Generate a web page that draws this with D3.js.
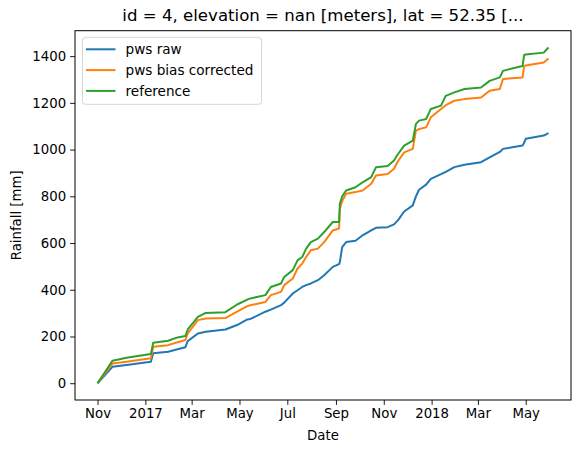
<!DOCTYPE html>
<html>
<head>
<meta charset="utf-8">
<script src="https://cdn.jsdelivr.net/npm/d3@7"></script>
<style>
  body { margin: 0; background: #fff; }
  svg text { font-family: "DejaVu Sans", sans-serif; fill: #000; }
</style>
</head>
<body>
<svg id="chart" width="580" height="453"></svg>
<script>
// sample dates shared by all three series (cumulative rainfall, mm)
var dates = [
  "2016-11-01", "2016-11-20", "2016-12-08", "2017-01-08", "2017-01-11", "2017-01-30",
  "2017-02-11", "2017-02-21", "2017-02-24", "2017-03-09", "2017-03-19", "2017-04-13",
  "2017-04-28", "2017-05-11", "2017-05-15", "2017-06-03", "2017-06-10", "2017-06-23",
  "2017-06-27", "2017-07-08", "2017-07-14", "2017-07-20", "2017-07-25", "2017-07-31",
  "2017-08-09", "2017-08-17", "2017-08-28", "2017-09-05", "2017-09-06", "2017-09-09",
  "2017-09-14", "2017-09-26", "2017-10-05", "2017-10-16", "2017-10-22", "2017-11-06",
  "2017-11-14", "2017-11-19", "2017-11-27", "2017-12-08", "2017-12-12", "2017-12-16",
  "2017-12-25", "2017-12-31", "2018-01-13", "2018-01-19", "2018-01-30", "2018-02-12",
  "2018-03-05", "2018-03-16", "2018-03-29", "2018-04-02", "2018-04-27", "2018-04-29",
  "2018-05-01", "2018-05-24", "2018-05-30"
];
var pwsRaw = [
  0, 70, 78, 92, 128, 135, 145, 154, 180, 213, 220, 230,
  249, 273, 275, 306, 315, 334, 345, 384, 398, 412, 420, 427,
  441, 462, 498, 510, 519, 583, 604, 610, 633, 654, 665, 668,
  680, 697, 735, 761, 800, 828, 850, 875, 895, 905, 925, 935,
  946, 967, 990, 1003, 1017, 1030, 1046, 1060, 1070
];
var pwsCorrected = [
  0, 84, 92, 107, 156, 163, 175, 185, 213, 270, 277, 279,
  306, 330, 334, 348, 377, 391, 420, 448, 491, 512, 540, 569,
  576, 604, 654, 662, 747, 780, 811, 818, 825, 854, 889, 895,
  918, 950, 988, 1003, 1081, 1088, 1095, 1138, 1174, 1190, 1209, 1216,
  1223, 1252, 1259, 1302, 1309, 1358, 1360, 1373, 1390
];
var reference = [
  0, 96, 109, 125, 173, 182, 196, 202, 230, 284, 301, 304,
  337, 358, 363, 377, 412, 427, 455, 484, 526, 540, 576, 604,
  619, 647, 690, 690, 768, 800, 825, 839, 860, 882, 924, 930,
  953, 980, 1017, 1038, 1110, 1124, 1131, 1174, 1188, 1230, 1245, 1259,
  1266, 1294, 1309, 1337, 1358, 1405, 1407, 1415, 1437
];
var seriesNames = ["pws raw", "pws bias corrected", "reference"];
var seriesColors = ["#1f77b4", "#ff7f0e", "#2ca02c"];
var yTicks = [0, 200, 400, 600, 800, 1000, 1200, 1400];
var titleText = "id = 4, elevation = nan [meters], lat = 52.35 [...";

var margin = {top: 30.7, right: 9, bottom: 53, left: 75},
    width = 580 - margin.left - margin.right,
    height = 453 - margin.top - margin.bottom;

var parse = d3.timeParse("%Y-%m-%d"),
    x = dates.map(parse),
    series = [pwsRaw, pwsCorrected, reference];

// matplotlib style 5% padding on both axes
var xExt = d3.extent(x), xPad = (xExt[1] - xExt[0]) * 0.05;
var yMax = d3.max(series, function (s) { return d3.max(s); }), yPad = yMax * 0.05;

var xScale = d3.scaleTime()
    .domain([new Date(+xExt[0] - xPad), new Date(+xExt[1] + xPad)])
    .range([0, width]);
var yScale = d3.scaleLinear()
    .domain([-yPad, yMax + yPad])
    .range([height, 0]);

var svg = d3.select("#chart"),
    g = svg.append("g").attr("transform", "translate(" + margin.left + "," + margin.top + ")");

var monthFmt = d3.timeFormat("%b"), yearFmt = d3.timeFormat("%Y");
var xAxis = d3.axisBottom(xScale)
    .ticks(d3.timeMonth.every(2))
    .tickSizeOuter(0)
    .tickSize(4.9)
    .tickPadding(4)
    .tickFormat(function (d) { return d.getMonth() === 0 ? yearFmt(d) : monthFmt(d); });
var yAxis = d3.axisLeft(yScale)
    .tickValues(yTicks)
    .tickFormat(d3.format("d"))
    .tickSizeOuter(0)
    .tickSize(4.9)
    .tickPadding(4);

var gx = g.append("g").attr("transform", "translate(0," + height + ")").call(xAxis);
var gy = g.append("g").call(yAxis);
[gx, gy].forEach(function (a) {
    a.select(".domain").remove();
    a.selectAll(".tick line").attr("stroke", "#000").attr("stroke-width", 0.9);
    a.selectAll(".tick text").style("font-size", "13.3px").attr("fill", "#000");
});

var line = d3.line()
    .x(function (d, i) { return xScale(x[i]); })
    .y(function (d) { return yScale(d); });

g.append("clipPath").attr("id", "clip")
  .append("rect").attr("width", width).attr("height", height);

g.append("g").attr("clip-path", "url(#clip)")
    .selectAll("path.series")
    .data(series)
  .enter().append("path")
    .attr("class", "series")
    .attr("fill", "none")
    .attr("stroke", function (d, i) { return seriesColors[i]; })
    .attr("stroke-width", 2)
    .attr("stroke-linejoin", "round")
    .attr("d", line);

// axes frame
g.append("rect")
    .attr("width", width).attr("height", height)
    .attr("fill", "none").attr("stroke", "#000").attr("stroke-width", 1);

// legend
var legend = g.append("g").attr("transform", "translate(7.5,6.6)");
legend.append("rect")
    .attr("width", 179).attr("height", 67)
    .attr("rx", 3).attr("fill", "#fff").attr("fill-opacity", 0.8)
    .attr("stroke", "#d6d6d6").attr("stroke-width", 1);
var item = legend.selectAll("g.item")
    .data(seriesNames)
  .enter().append("g")
    .attr("class", "item")
    .attr("transform", function (d, i) { return "translate(0," + (12 + i * 20.8) + ")"; });
item.append("line")
    .attr("x1", 3.5).attr("x2", 33)
    .attr("stroke", function (d, i) { return seriesColors[i]; })
    .attr("stroke-width", 2);
item.append("text")
    .attr("x", 43).attr("dy", "0.35em")
    .style("font-size", "13.6px")
    .text(function (d) { return d; });

// titles
svg.append("text")
    .attr("x", margin.left + width / 2).attr("y", 21)
    .attr("text-anchor", "middle")
    .style("font-size", "16.6px")
    .text(titleText);
svg.append("text")
    .attr("x", margin.left + width / 2).attr("y", 440)
    .attr("text-anchor", "middle")
    .style("font-size", "13.3px")
    .text("Date");
svg.append("text")
    .attr("transform", "translate(21," + (margin.top + height / 2) + ") rotate(-90)")
    .attr("text-anchor", "middle")
    .style("font-size", "13.3px")
    .text("Rainfall [mm]");
</script>
</body>
</html>
